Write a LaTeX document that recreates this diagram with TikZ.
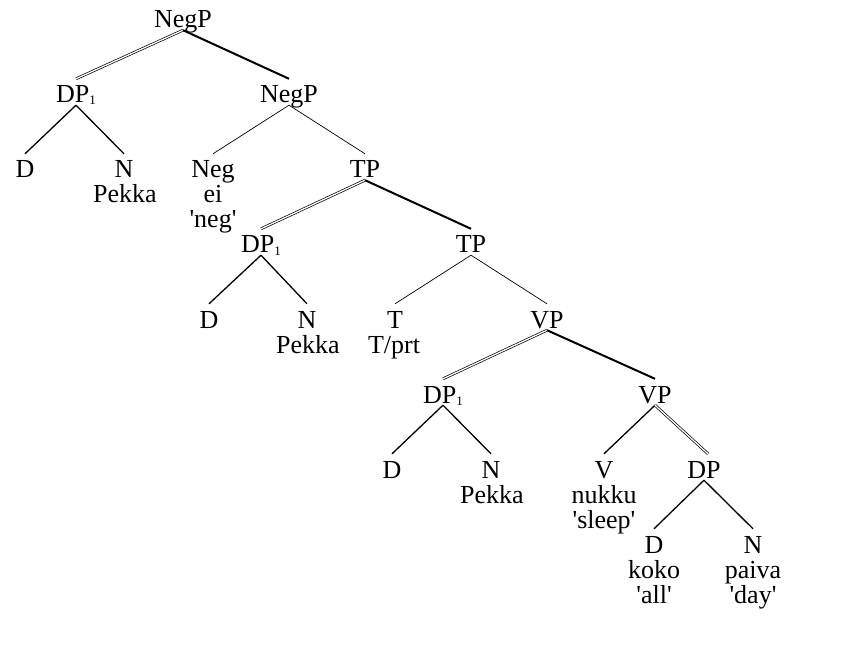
\documentclass[tikz,border=0pt]{standalone}
\usepackage{fontspec}
\setmainfont{Liberation Serif}[Ligatures=TeXOff]
\begin{document}
\begin{tikzpicture}[x=1bp,y=-1bp,
  lab/.style={inner sep=0pt,anchor=base,font=\fontsize{26bp}{25bp}\selectfont},
  cat/.style={lab,text height=24bp,text depth=2bp},
  thinln/.style={line width=0.7bp},
  medln/.style={line width=1.3bp},
  thickln/.style={line width=2bp},
  dblln/.style={double,line width=0.7bp,double distance=1.3bp}]
\useasboundingbox (0,0) rectangle (848,645);
\newcommand{\sone}{\raisebox{-2bp}{\fontsize{13bp}{13bp}\selectfont 1}}
% level 1
\node[cat] (negp1) at (183,28) {NegP};
% level 2
\node[cat] (dpa) at (76,103) {DP\sone};
\node[cat] (negp2) at (289,103) {NegP};
% level 3
\node[cat] (da) at (25,178) {D};
\node[cat] (na) at (124,178) {N};
\node[lab] (pekkaa) at (125,203) {Pekka};
\node[cat] (neg) at (213,178) {Neg};
\node[lab] (ei) at (213,203) {ei};
\node[lab] (negg) at (213,228) {'neg'};
\node[cat] (tp1) at (365,178) {TP};
% level 4
\node[cat] (dpb) at (261,253) {DP\sone};
\node[cat] (tp2) at (471,253) {TP};
% level 5
\node[cat] (db) at (209,328) {D};
\node[cat] (nb) at (307,328) {N};
\node[lab] (pekkab) at (308,353) {Pekka};
\node[cat] (t) at (395,328) {T};
\node[lab] (tprt) at (394,353) {T/prt};
\node[cat] (vp1) at (547,328) {VP};
% level 6
\node[cat] (dpc) at (443,403) {DP\sone};
\node[cat] (vp2) at (655,403) {VP};
% level 7
\node[cat] (dc) at (392,478) {D};
\node[cat] (nc) at (491,478) {N};
\node[lab] (pekkac) at (492,503) {Pekka};
\node[cat] (v) at (604,478) {V};
\node[lab] (nukku) at (604,503) {nukku};
\node[lab] (sleep) at (604,528) {'sleep'};
\node[cat] (dpd) at (704,478) {DP};
% level 8
\node[cat] (dd) at (654,553) {D};
\node[lab] (koko) at (654,578) {koko};
\node[lab] (all) at (654,603) {'all'};
\node[cat] (nd) at (753,553) {N};
\node[lab] (paiva) at (753,578) {paiva};
\node[lab] (day) at (753,603) {'day'};
% edges
\draw[dblln] (negp1.south) -- (dpa.north);
\draw[thickln] (negp1.south) -- (negp2.north);
\draw[medln] (dpa.south) -- (da.north);
\draw[medln] (dpa.south) -- (na.north);
\draw[thinln] (negp2.south) -- (neg.north);
\draw[thinln] (negp2.south) -- (tp1.north);
\draw[dblln] (tp1.south) -- (dpb.north);
\draw[thickln] (tp1.south) -- (tp2.north);
\draw[medln] (dpb.south) -- (db.north);
\draw[medln] (dpb.south) -- (nb.north);
\draw[thinln] (tp2.south) -- (t.north);
\draw[thinln] (tp2.south) -- (vp1.north);
\draw[dblln] (vp1.south) -- (dpc.north);
\draw[thickln] (vp1.south) -- (vp2.north);
\draw[medln] (dpc.south) -- (dc.north);
\draw[medln] (dpc.south) -- (nc.north);
\draw[medln] (vp2.south) -- (v.north);
\draw[dblln] (vp2.south) -- ([xshift=4bp]dpd.north);
\draw[medln] (dpd.south) -- (dd.north);
\draw[medln] (dpd.south) -- (nd.north);
\end{tikzpicture}
\end{document}
